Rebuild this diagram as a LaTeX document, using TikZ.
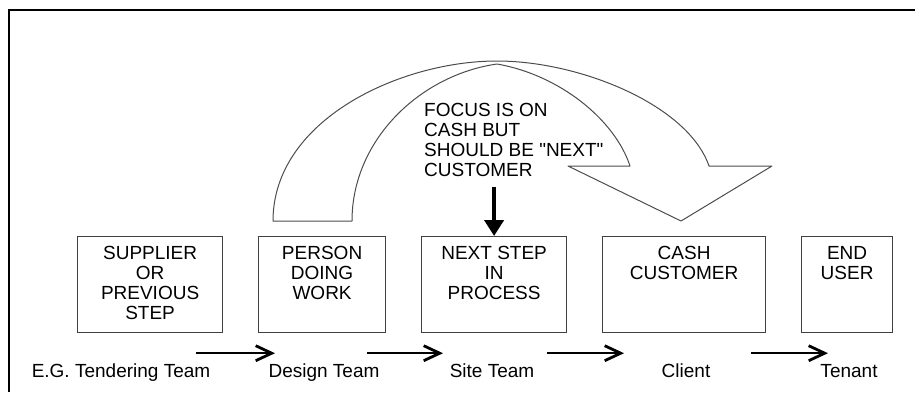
\documentclass[tikz,border=0pt]{standalone}
\usepackage{fontspec}
\setmainfont{Liberation Sans}
\newfontfamily\diagfamily{Liberation Sans}
\usetikzlibrary{arrows.meta,positioning}

\newcommand{\diagfont}{\diagfamily\fontsize{19}{20}\selectfont}

\begin{document}
\begin{tikzpicture}[x=1pt, y=-1pt,
    stepbox/.style={rectangle, draw=black!75, line width=1.2pt, minimum height=96pt, anchor=north west, inner sep=0pt},
    boxtext/.style={anchor=north, yshift=-10pt, inner sep=0pt, align=center, font=\diagfont},
    team/.style={anchor=base, inner sep=0pt, font=\diagfont},
    flow/.style={-{Straight Barb[length=16pt, width=15pt, line width=2.8pt]}, line width=2.5pt},
    focusarrow/.style={-{Triangle[length=16pt, width=19pt]}, line width=4.2pt},
    bigarrow/.style={draw=black!70, line width=1pt, line join=round}
]

\useasboundingbox (0,0) rectangle (915,392);

% Frame
\draw[line width=2pt] (8.5,392) -- (8.5,10) -- (915,10);

% Steps
\node[stepbox, minimum width=145pt, label={[boxtext]north:SUPPLIER\\OR\\PREVIOUS\\STEP}] at (77,236) (supplier) {};
\node[stepbox, minimum width=127pt, label={[boxtext]north:PERSON\\DOING\\WORK}] at (258,236) (person) {};
\node[stepbox, minimum width=145pt, label={[boxtext]north:NEXT STEP\\IN\\PROCESS}] at (421,236) (next) {};
\node[stepbox, minimum width=163pt, label={[boxtext]north:CASH\\CUSTOMER}] at (602,236) (cash) {};
\node[stepbox, minimum width=91pt, label={[boxtext]north:END\\USER}] at (801,236) (enduser) {};

% Teams
\node[team] at (121,377) (tendering) {E.G. Tendering Team};
\node[team] at (324,377) (design) {Design Team};
\node[team] at (492,377) (site) {Site Team};
\node[team] at (686,377) (client) {Client};
\node[team] at (849,377) (tenant) {Tenant};

% Flow arrows
\draw[flow] ([shift={(-27,20)}]supplier.south east) -- ([shift={(17,20)}]person.south west);
\draw[flow] ([shift={(-19,20)}]person.south east) -- ([shift={(22,20)}]next.south west);
\draw[flow] ([shift={(-20,20)}]next.south east) -- ([shift={(22,20)}]cash.south west);
\draw[flow] ([shift={(-15,20)}]cash.south east) -- ([shift={(27,20)}]enduser.south west);

% Note
\node[anchor=north west, inner sep=0pt, align=left, font=\diagfont] at (424,103) (focus)
    {FOCUS IS ON\\CASH BUT\\SHOULD BE "NEXT"\\CUSTOMER};
\draw[focusarrow] ([yshift=-10pt]focus.south -| next.north) -- (next.north);

% Curved arrow over the steps
\draw[bigarrow] (273,221) -- (352,221)
    .. controls (352,140) and (420,75) .. (497,64)
    .. controls (560,75) and (615,120) .. (630,166)
    -- (568,166) -- (681,221) -- (772,166) -- (709,166)
    .. controls (688,105) and (580,61) .. (497,61)
    .. controls (400,61) and (273,120) .. cycle;

\end{tikzpicture}
\end{document}
